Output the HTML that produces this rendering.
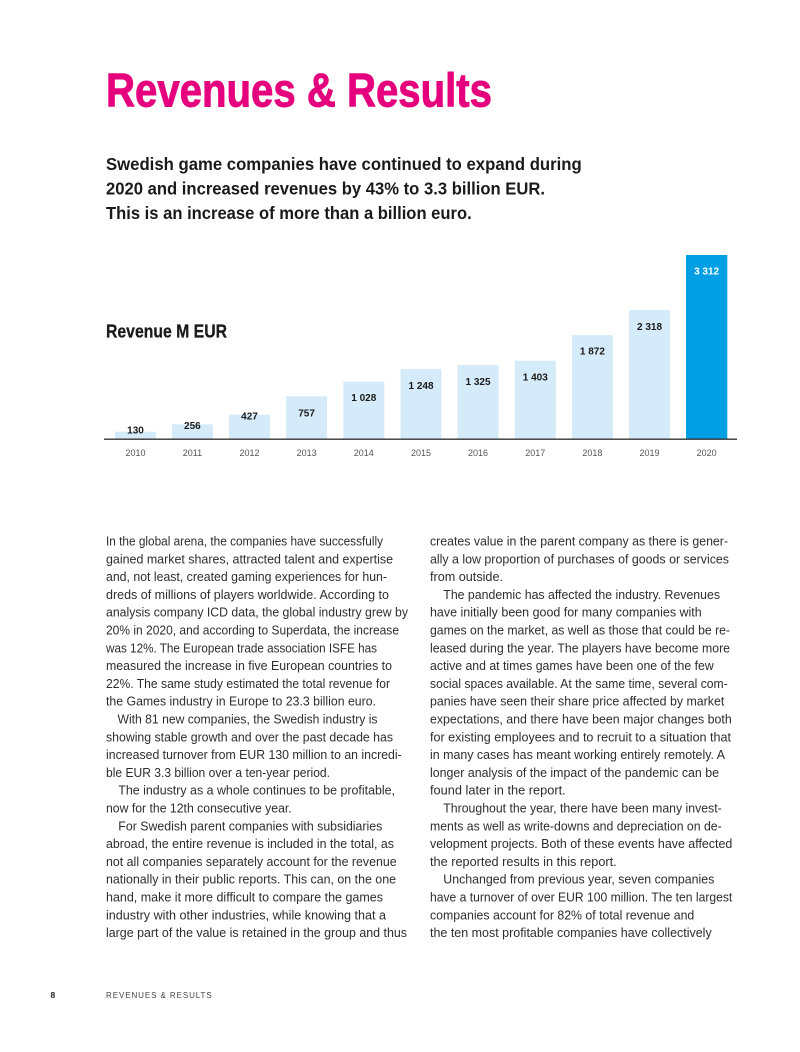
<!DOCTYPE html>
<html><head><meta charset="utf-8"><style>
html,body{margin:0;padding:0;background:#fff;}
svg{display:block;}
.b{font-family:"Liberation Sans",sans-serif;font-size:12.8px;fill:#2e2e2e;}
</style></head><body>
<svg width="800" height="1052" viewBox="0 0 800 1052" xmlns="http://www.w3.org/2000/svg">
<rect width="800" height="1052" fill="#fff"/>
<text x="106" y="106.7" font-family="Liberation Sans, sans-serif" font-weight="bold" font-size="47.5" fill="#E5007E" stroke="#E5007E" stroke-width="0.9" textLength="386" lengthAdjust="spacingAndGlyphs">Revenues &amp; Results</text>
<g font-family="Liberation Sans, sans-serif" font-weight="bold" font-size="17.5" fill="#1a1a1a">
<text x="106" y="169.8" textLength="475.7" lengthAdjust="spacingAndGlyphs">Swedish game companies have continued to expand during</text>
<text x="106" y="194.3" textLength="439" lengthAdjust="spacingAndGlyphs">2020 and increased revenues by 43% to 3.3 billion EUR.</text>
<text x="106" y="218.8" textLength="365.7" lengthAdjust="spacingAndGlyphs">This is an increase of more than a billion euro.</text>
</g>
<text x="106" y="337.3" font-family="Liberation Sans, sans-serif" font-weight="bold" font-size="18.5" fill="#1a1a1a" stroke="#1a1a1a" stroke-width="0.3" textLength="121" lengthAdjust="spacingAndGlyphs">Revenue M EUR</text>
<g fill="#D5EBFA">
<rect x="115" y="431.7" width="41" height="7.3"/>
<rect x="171.9" y="424.3" width="41" height="14.7"/>
<rect x="229" y="414.7" width="41" height="24.3"/>
<rect x="286.1" y="396.3" width="41" height="42.7"/>
<rect x="343.3" y="381.7" width="41" height="57.3"/>
<rect x="400.5" y="369" width="41" height="70"/>
<rect x="457.5" y="365" width="41" height="74"/>
<rect x="514.8" y="360.7" width="41" height="78.3"/>
<rect x="571.9" y="335" width="41" height="104"/>
<rect x="629" y="310" width="41" height="129"/>
</g>
<rect x="686" y="255" width="41.3" height="184" fill="#009FE3"/>
<line x1="104" y1="439.2" x2="737" y2="439.2" stroke="#333" stroke-width="1.4"/>
<g font-family="Liberation Sans, sans-serif" font-weight="bold" font-size="10" fill="#1a1a1a" text-anchor="middle">
<text x="135.5" y="433.5">130</text>
<text x="192.4" y="429">256</text>
<text x="249.5" y="419.3">427</text>
<text x="306.6" y="416.7">757</text>
<text x="363.8" y="401">1 028</text>
<text x="421" y="389">1 248</text>
<text x="478" y="385">1 325</text>
<text x="535.3" y="380.7">1 403</text>
<text x="592.4" y="354.3">1 872</text>
<text x="649.5" y="330">2 318</text>
<text x="706.6" y="274.3" fill="#fff">3 312</text>
</g>
<g font-family="Liberation Sans, sans-serif" font-size="9" fill="#555" text-anchor="middle">
<text x="135.5" y="456">2010</text>
<text x="192.4" y="456">2011</text>
<text x="249.5" y="456">2012</text>
<text x="306.6" y="456">2013</text>
<text x="363.8" y="456">2014</text>
<text x="421" y="456">2015</text>
<text x="478" y="456">2016</text>
<text x="535.3" y="456">2017</text>
<text x="592.4" y="456">2018</text>
<text x="649.5" y="456">2019</text>
<text x="706.6" y="456">2020</text>
</g>
<g class="b">
<text x="106" y="545.5" textLength="277" lengthAdjust="spacingAndGlyphs">In the global arena, the companies have successfully</text>
<text x="106" y="563.3" textLength="287" lengthAdjust="spacingAndGlyphs">gained market shares, attracted talent and expertise</text>
<text x="106" y="581.1" textLength="281" lengthAdjust="spacingAndGlyphs">and, not least, created gaming experiences for hun-</text>
<text x="106" y="598.9" textLength="283" lengthAdjust="spacingAndGlyphs">dreds of millions of players worldwide. According to</text>
<text x="106" y="616.7" textLength="302" lengthAdjust="spacingAndGlyphs">analysis company ICD data, the global industry grew by</text>
<text x="106" y="634.5" textLength="293" lengthAdjust="spacingAndGlyphs">20% in 2020, and according to Superdata, the increase</text>
<text x="106" y="652.3" textLength="271" lengthAdjust="spacingAndGlyphs">was 12%. The European trade association ISFE has</text>
<text x="106" y="670.1" textLength="286" lengthAdjust="spacingAndGlyphs">measured the increase in five European countries to</text>
<text x="106" y="687.9" textLength="284" lengthAdjust="spacingAndGlyphs">22%. The same study estimated the total revenue for</text>
<text x="106" y="705.7" textLength="270" lengthAdjust="spacingAndGlyphs">the Games industry in Europe to 23.3 billion euro.</text>
<text x="117.5" y="723.5" textLength="260" lengthAdjust="spacingAndGlyphs">With 81 new companies, the Swedish industry is</text>
<text x="106" y="741.3" textLength="287" lengthAdjust="spacingAndGlyphs">showing stable growth and over the past decade has</text>
<text x="106" y="759.1" textLength="295.7" lengthAdjust="spacingAndGlyphs">increased turnover from EUR 130 million to an incredi-</text>
<text x="106" y="776.9" textLength="224" lengthAdjust="spacingAndGlyphs">ble EUR 3.3 billion over a ten-year period.</text>
<text x="118.3" y="794.7" textLength="276.7" lengthAdjust="spacingAndGlyphs">The industry as a whole continues to be profitable,</text>
<text x="106" y="812.5" textLength="185.7" lengthAdjust="spacingAndGlyphs">now for the 12th consecutive year.</text>
<text x="118.3" y="830.3" textLength="264" lengthAdjust="spacingAndGlyphs">For Swedish parent companies with subsidiaries</text>
<text x="106" y="848.1" textLength="288" lengthAdjust="spacingAndGlyphs">abroad, the entire revenue is included in the total, as</text>
<text x="106" y="865.9" textLength="290.7" lengthAdjust="spacingAndGlyphs">not all companies separately account for the revenue</text>
<text x="106" y="883.7" textLength="290" lengthAdjust="spacingAndGlyphs">nationally in their public reports. This can, on the one</text>
<text x="106" y="901.5" textLength="277" lengthAdjust="spacingAndGlyphs">hand, make it more difficult to compare the games</text>
<text x="106" y="919.3" textLength="280" lengthAdjust="spacingAndGlyphs">industry with other industries, while knowing that a</text>
<text x="106" y="937.1" textLength="301" lengthAdjust="spacingAndGlyphs">large part of the value is retained in the group and thus</text>

<text x="430" y="545.5" textLength="298" lengthAdjust="spacingAndGlyphs">creates value in the parent company as there is gener-</text>
<text x="430" y="563.3" textLength="299" lengthAdjust="spacingAndGlyphs">ally a low proportion of purchases of goods or services</text>
<text x="430" y="581.1" textLength="73" lengthAdjust="spacingAndGlyphs">from outside.</text>
<text x="443.3" y="598.9" textLength="276.7" lengthAdjust="spacingAndGlyphs">The pandemic has affected the industry. Revenues</text>
<text x="430" y="616.7" textLength="271.7" lengthAdjust="spacingAndGlyphs">have initially been good for many companies with</text>
<text x="430" y="634.5" textLength="300" lengthAdjust="spacingAndGlyphs">games on the market, as well as those that could be re-</text>
<text x="430" y="652.3" textLength="300" lengthAdjust="spacingAndGlyphs">leased during the year. The players have become more</text>
<text x="430" y="670.1" textLength="283.7" lengthAdjust="spacingAndGlyphs">active and at times games have been one of the few</text>
<text x="430" y="687.9" textLength="297.7" lengthAdjust="spacingAndGlyphs">social spaces available. At the same time, several com-</text>
<text x="430" y="705.7" textLength="294.3" lengthAdjust="spacingAndGlyphs">panies have seen their share price affected by market</text>
<text x="430" y="723.5" textLength="301.7" lengthAdjust="spacingAndGlyphs">expectations, and there have been major changes both</text>
<text x="430" y="741.3" textLength="301" lengthAdjust="spacingAndGlyphs">for existing employees and to recruit to a situation that</text>
<text x="430" y="759.1" textLength="295" lengthAdjust="spacingAndGlyphs">in many cases has meant working entirely remotely. A</text>
<text x="430" y="776.9" textLength="289" lengthAdjust="spacingAndGlyphs">longer analysis of the impact of the pandemic can be</text>
<text x="430" y="794.7" textLength="135.7" lengthAdjust="spacingAndGlyphs">found later in the report.</text>
<text x="443.3" y="812.5" textLength="278.4" lengthAdjust="spacingAndGlyphs">Throughout the year, there have been many invest-</text>
<text x="430" y="830.3" textLength="291.7" lengthAdjust="spacingAndGlyphs">ments as well as write-downs and depreciation on de-</text>
<text x="430" y="848.1" textLength="302.3" lengthAdjust="spacingAndGlyphs">velopment projects. Both of these events have affected</text>
<text x="430" y="865.9" textLength="186.7" lengthAdjust="spacingAndGlyphs">the reported results in this report.</text>
<text x="443.3" y="883.7" textLength="271" lengthAdjust="spacingAndGlyphs">Unchanged from previous year, seven companies</text>
<text x="430" y="901.5" textLength="302.3" lengthAdjust="spacingAndGlyphs">have a turnover of over EUR 100 million. The ten largest</text>
<text x="430" y="919.3" textLength="264.3" lengthAdjust="spacingAndGlyphs">companies account for 82% of total revenue and</text>
<text x="430" y="937.1" textLength="281.7" lengthAdjust="spacingAndGlyphs">the ten most profitable companies have collectively</text>
</g>
<text x="50.5" y="997.8" font-family="Liberation Sans, sans-serif" font-weight="bold" font-size="8.5" fill="#222">8</text>
<text x="106" y="997.8" font-family="Liberation Sans, sans-serif" font-size="8" fill="#444" textLength="105.7" lengthAdjust="spacing">REVENUES &amp; RESULTS</text>
</svg>
</body></html>
